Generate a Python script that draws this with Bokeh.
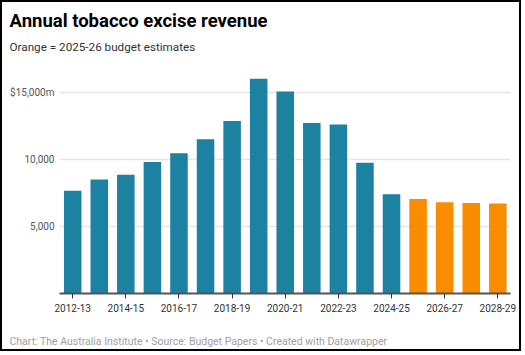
from bokeh.plotting import figure
from bokeh.models import Title, FixedTicker, Range1d, ColumnDataSource
from bokeh.embed import file_html
from bokeh.resources import INLINE

years = ["2012-13", "2013-14", "2014-15", "2015-16", "2016-17", "2017-18",
         "2018-19", "2019-20", "2020-21", "2021-22", "2022-23", "2023-24",
         "2024-25", "2025-26", "2026-27", "2027-28", "2028-29"]
revenue = [7650, 8500, 8850, 9800, 10450, 11500, 12850, 16000, 15050,
           12700, 12600, 9750, 7400, 7050, 6800, 6750, 6700]
is_estimate = [False] * 13 + [True] * 4
y_ticks = [5000, 10000, 15000]
y_tick_labels = ["5,000", "10,000", "$15,000m"]
x_label_every = 2

TITLE = "Annual tobacco excise revenue"
SUBTITLE = "Orange = 2025-26 budget estimates"
FOOTER = "Chart: The Australia Institute  \u2022 Source: Budget Papers \u2022 Created with Datawrapper"

BLUE = "#1d81a2"
ORANGE = "#fa8c00"
FONT = "Roboto"

src = ColumnDataSource(dict(
    x=list(range(len(years))),
    top=revenue,
    color=[ORANGE if e else BLUE for e in is_estimate],
))

p = figure(width=521, height=351, output_backend="svg", toolbar_location=None,
           x_range=Range1d(-0.497, len(years) - 1 + 0.478),
           y_range=Range1d(0, 16617),
           min_border_left=57, min_border_right=13, min_border_top=68,
           min_border_bottom=59)
p.styles = {"position": "absolute", "left": "0px", "top": "0px",
            "border": "2px solid #000000"}
p.outline_line_color = None
p.background_fill_color = "white"
p.border_fill_color = "white"

p.vbar(x="x", top="top", width=0.66, fill_color="color", line_color=None, source=src)

# grid
p.xgrid.visible = False
p.ygrid.ticker = FixedTicker(ticks=y_ticks)
p.ygrid.grid_line_color = "#e5e5e5"
p.ygrid.grid_line_width = 1.5

# x axis
xt = list(range(0, len(years), x_label_every))
p.xaxis.ticker = FixedTicker(ticks=xt)
p.xaxis.major_label_overrides = {i: years[i] for i in xt}
p.xaxis.axis_line_color = "#555555"
p.xaxis.axis_line_width = 2
p.xaxis.major_tick_in = 0
p.xaxis.major_tick_out = 5
p.xaxis.major_tick_line_color = "#333333"
p.xaxis.minor_tick_line_color = None
p.xaxis.major_label_text_font = FONT
p.xaxis.major_label_text_font_size = "10px"
p.xaxis.major_label_text_color = "#333333"
p.xaxis.major_label_standoff = 5

# y axis
p.yaxis.ticker = FixedTicker(ticks=y_ticks)
p.yaxis.major_label_overrides = {t: l for t, l in zip(y_ticks, y_tick_labels)}
p.yaxis.axis_line_color = None
p.yaxis.major_tick_line_color = None
p.yaxis.minor_tick_line_color = None
p.yaxis.major_tick_in = 0
p.yaxis.major_tick_out = 0
p.yaxis.major_label_text_font = FONT
p.yaxis.major_label_text_font_size = "10px"
p.yaxis.major_label_text_color = "#555555"
p.yaxis.major_label_standoff = 5

# titles (above: first added is nearest the plot area)
p.add_layout(Title(text=" ", text_font=FONT, text_font_size="1px",
                   text_color="#ffffff", standoff=13), "above")
p.add_layout(Title(text=SUBTITLE, text_font=FONT, text_font_size="11.7px",
                   text_font_style="normal", text_color="#333333",
                   offset=-50, standoff=2), "above")
p.add_layout(Title(text=TITLE, text_font=FONT, text_font_size="18.5px",
                   text_font_style="bold", text_color="#000000",
                   offset=-50, standoff=10), "above")
p.add_layout(Title(text=" ", text_font=FONT, text_font_size="1px",
                   text_color="#ffffff", standoff=9), "below")
p.add_layout(Title(text=FOOTER, text_font=FONT, text_font_size="10.5px",
                   text_font_style="normal", text_color="#a0a0a0",
                   offset=-50, standoff=12), "below")

open("out.html", "w").write(file_html(p, INLINE))
